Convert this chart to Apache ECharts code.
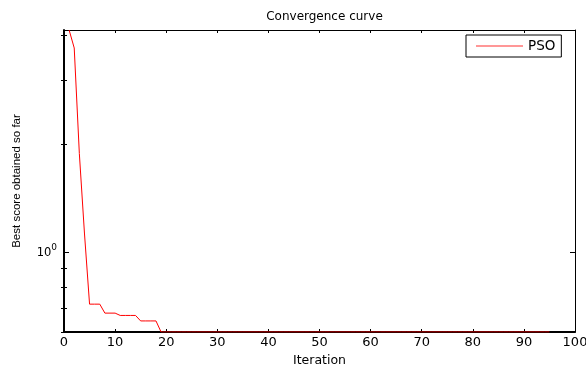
<!DOCTYPE html>
<html>
<head>
<meta charset="utf-8">
<script src="https://cdn.jsdelivr.net/npm/echarts@6/dist/echarts.min.js"></script>
<style>
html,body{margin:0;padding:0;background:#fff;}
#chart{width:586px;height:365px;}
</style>
</head>
<body>
<div id="chart"></div>
<script>
const titleText = 'Convergence curve';
const seriesName = 'PSO';
const xName = 'Iteration';
const yName = 'Best score obtained so far';
const xTicks = [0, 10, 20, 30, 40, 50, 60, 70, 80, 90, 100];
const yMin = 0.6;
const yMax = 4.14;
const yMajorTicks = [1];
const yMinorTicks = [0.6, 0.7, 0.8, 0.9, 2, 3, 4];
const bestScore = [
  4.14, 3.69, 1.88, 1.13,
  0.717, 0.717, 0.717,
  0.677, 0.677, 0.677,
  0.667, 0.667, 0.667, 0.667,
  0.644, 0.644, 0.644, 0.644,
  0.600, 0.600, 0.600, 0.600, 0.600, 0.600, 0.600, 0.600, 0.600, 0.600,
  0.600, 0.600, 0.600, 0.600, 0.600, 0.600, 0.600, 0.600, 0.600, 0.600,
  0.600, 0.600, 0.600, 0.600, 0.600, 0.600, 0.600, 0.600, 0.600, 0.600,
  0.600, 0.600, 0.600, 0.600, 0.600, 0.600, 0.600, 0.600, 0.600, 0.600,
  0.600, 0.600, 0.600, 0.600, 0.600, 0.600, 0.600, 0.600, 0.600, 0.600,
  0.600, 0.600, 0.600, 0.600, 0.600, 0.600, 0.600, 0.600, 0.600, 0.600,
  0.600, 0.600, 0.600, 0.600, 0.600, 0.600, 0.600, 0.600, 0.600, 0.600,
  0.600, 0.600, 0.600, 0.600, 0.600, 0.600, 0.600
];

const seriesData = bestScore.map((v, i) => [i + 1, v]);
const FONT = 'Liberation Sans, Arial, sans-serif';
const WIDE = 'DejaVu Sans, Liberation Sans, sans-serif';
const chart = echarts.init(document.getElementById('chart'), null, {renderer: 'canvas'});

function line(w) { return {show: true, onZero: false, lineStyle: {color: '#000', width: w}}; }
const logMin = Math.log10(yMin), logMax = Math.log10(yMax);

function minorAxis(pos) {
  return {
    type: 'value', position: pos, min: logMin, max: logMax, gridIndex: 0,
    axisLine: {show: false},
    axisTick: {show: true, inside: true, length: 3, lineStyle: {color: '#000', width: 1},
      customValues: yMinorTicks.map(v => Math.log10(v))},
    axisLabel: {show: false}, splitLine: {show: false}
  };
}

const option = {
  animation: false,
  backgroundColor: '#fff',
  title: {
    text: titleText, left: 319.5, textAlign: 'center', top: 6,
    textStyle: {fontFamily: WIDE, fontSize: 12, fontWeight: 'normal', color: '#000'}
  },
  legend: {
    left: 466, top: 35, orient: 'horizontal',
    padding: [4, 6, 4, 10], borderColor: '#000', borderWidth: 1, backgroundColor: '#fff',
    itemWidth: 47, itemHeight: 1, icon: 'rect', itemGap: 0,
    textStyle: {fontFamily: WIDE, fontSize: 13.5, color: '#000'},
    data: [{name: seriesName, itemStyle: {color: '#ff3030'}}]
  },
  grid: {left: 64, right: 11, top: 30, bottom: 33, containLabel: false, outerBoundsMode: 'none'},
  xAxis: [
    {
      type: 'value', position: 'bottom', min: 0, max: 100, interval: 10,
      name: xName, nameLocation: 'middle', nameGap: 16,
      nameTextStyle: {fontFamily: WIDE, fontSize: 12.5, color: '#000'},
      axisLine: line(2),
      axisTick: {show: true, inside: true, length: 3, lineStyle: {color: '#000'}},
      axisLabel: {fontFamily: WIDE, fontSize: 13, color: '#000', margin: 4,
        customValues: xTicks},
      splitLine: {show: false}
    },
    {
      type: 'value', position: 'top', min: 0, max: 100, interval: 10,
      axisLine: line(1),
      axisTick: {show: true, inside: true, length: 3, lineStyle: {color: '#000'}},
      axisLabel: {show: false}, splitLine: {show: false}
    }
  ],
  yAxis: [
    {
      type: 'log', logBase: 10, position: 'left', min: yMin, max: yMax,
      name: yName, nameLocation: 'middle', nameGap: 41, nameRotate: 90,
      nameTextStyle: {fontFamily: FONT, fontSize: 11.5, color: '#000'},
      axisLine: line(2),
      axisTick: {show: true, inside: true, length: 5, lineStyle: {color: '#000'}},
      axisLabel: {
        margin: 7,
        showMinLabel: false, showMaxLabel: false,
        formatter: function (v) {
          for (const t of yMajorTicks) {
            if (Math.abs(v - t) < 1e-6) return '{b|10}{s|0}';
          }
          return '';
        },
        rich: {
          b: {fontFamily: WIDE, fontSize: 11.5, color: '#000', verticalAlign: 'bottom', lineHeight: 14},
          s: {fontFamily: WIDE, fontSize: 9, color: '#000', verticalAlign: 'bottom', lineHeight: 14, padding: [0, 0, 7, 0]}
        }
      },
      splitLine: {show: false}
    },
    {
      type: 'log', logBase: 10, position: 'right', min: yMin, max: yMax,
      axisLine: line(1),
      axisTick: {show: true, inside: true, length: 5, lineStyle: {color: '#000'}},
      axisLabel: {show: false}, splitLine: {show: false}
    },
    minorAxis('left'),
    minorAxis('right')
  ],
  series: [
    {
      name: seriesName, type: 'line', xAxisIndex: 0, yAxisIndex: 0,
      data: seriesData, showSymbol: false, symbol: 'none',
      lineStyle: {color: '#ff0000', width: 1}, itemStyle: {color: '#ff0000'},
      clip: true, z: 5
    }
  ]
};
chart.setOption(option);
</script>
</body>
</html>
